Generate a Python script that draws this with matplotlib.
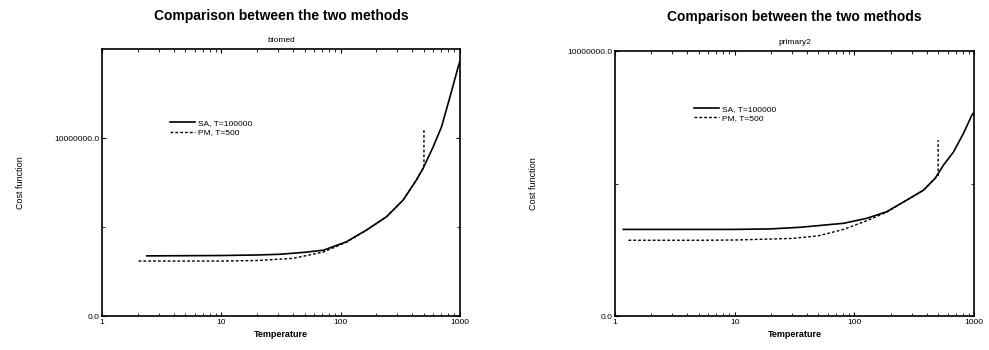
import matplotlib
matplotlib.use('Agg')
import matplotlib.pyplot as plt
from matplotlib.ticker import FixedLocator, FixedFormatter, LogLocator, NullFormatter

plt.rcParams['font.family'] = ['Liberation Sans', 'DejaVu Sans']

# biomed
t_sa_1 = [2.38, 5, 10, 20, 31, 50, 72, 112, 165, 243, 335, 432, 492, 597, 702, 825, 968, 1000]
c_sa_1 = [3.38e6, 3.39e6, 3.40e6, 3.43e6, 3.47e6, 3.58e6, 3.70e6, 4.17e6, 4.83e6, 5.58e6,
          6.52e6, 7.64e6, 8.30e6, 9.50e6, 10.63e6, 12.3e6, 14.0e6, 14.3e6]
t_pm_1 = [2.03, 5, 10, 20, 40, 72, 112, 165, 243, 335, 432, 492, 500, 500]
c_pm_1 = [3.09e6, 3.09e6, 3.09e6, 3.12e6, 3.24e6, 3.60e6, 4.15e6, 4.83e6, 5.58e6, 6.52e6,
          7.64e6, 8.30e6, 8.35e6, 10.45e6]

# primary2
t_sa_2 = [1.17, 5, 10, 20, 35, 81, 127, 186, 274, 377, 472, 555, 673, 815, 956, 1000]
c_sa_2 = [3.27e6, 3.27e6, 3.27e6, 3.29e6, 3.35e6, 3.50e6, 3.69e6, 3.94e6, 4.38e6, 4.75e6,
          5.20e6, 5.70e6, 6.20e6, 6.90e6, 7.58e6, 7.70e6]
t_pm_2 = [1.29, 5, 10, 30, 50, 81, 127, 186, 274, 377, 472, 500, 500]
c_pm_2 = [2.86e6, 2.86e6, 2.87e6, 2.93e6, 3.03e6, 3.27e6, 3.60e6, 3.92e6, 4.38e6, 4.75e6,
          5.20e6, 5.30e6, 6.64e6]

labels = ['SA, T=100000', 'PM, T=500']

fig = plt.figure(figsize=(9.89, 3.5), dpi=100)

def panel(rect, sub, tsa, csa, tpm, cpm, ymax, yticks, ylabs, yminor, leg_xy, title_y):
    ax = fig.add_axes(rect)
    ax.plot(tsa, csa, 'k-', linewidth=1.2, label=labels[0])
    ax.plot(tpm, cpm, 'k--', linewidth=1.0, dashes=(2, 1.5), label=labels[1])
    ax.set_xscale('log')
    ax.set_xlim(1, 1000)
    ax.set_ylim(0, ymax)
    ax.set_xticks([1, 10, 100, 1000])
    ax.set_xticklabels(['1', '10', '100', '1000'])
    ax.xaxis.set_minor_locator(LogLocator(base=10, subs=range(2, 10)))
    ax.xaxis.set_minor_formatter(NullFormatter())
    ax.yaxis.set_major_locator(FixedLocator(yticks))
    ax.yaxis.set_major_formatter(FixedFormatter(ylabs))
    ax.yaxis.set_minor_locator(FixedLocator(yminor))
    ax.tick_params(which='both', direction='in', top=True, right=True, labelsize=6, pad=2)
    ax.tick_params(which='major', length=3)
    ax.tick_params(which='minor', length=2)
    for s in ax.spines.values():
        s.set_linewidth(1.2)
    ax.set_xlabel('Temperature', fontsize=6.5, fontweight='bold', labelpad=3)
    ax.set_ylabel('Cost function', fontsize=6.5, labelpad=21)
    ax.set_title(sub, fontsize=6, pad=5)
    cx = rect[0] + rect[2] / 2
    fig.text(cx, title_y, 'Comparison between the two methods', ha='center', va='center',
             fontsize=10, fontweight='bold')
    ax.legend(loc='upper left', bbox_to_anchor=leg_xy, frameon=False, fontsize=6,
              handlelength=3, handletextpad=0.4, labelspacing=0.2, borderaxespad=0)
    return ax

panel([0.103, 0.097, 0.362, 0.763], 'biomed', t_sa_1, c_sa_1, t_pm_1, c_pm_1,
      1.5e7, [0, 1e7], ['0.0', '10000000.0'], [5e6], (0.18, 0.75), 0.955)
panel([0.622, 0.097, 0.363, 0.757], 'primary2', t_sa_2, c_sa_2, t_pm_2, c_pm_2,
      1e7, [0, 1e7], ['0.0', '10000000.0'], [5e6], (0.21, 0.81), 0.95)

fig.savefig('out.png', dpi=100)
